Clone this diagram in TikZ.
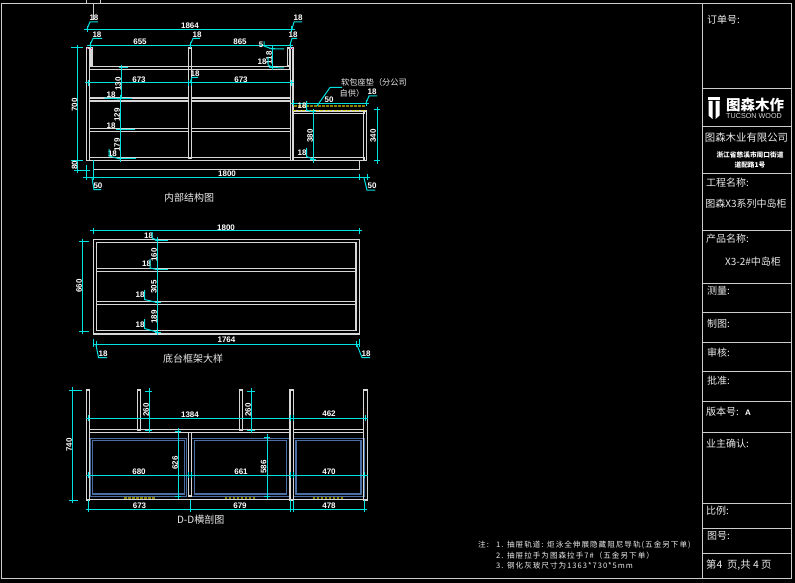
\documentclass[tikz,border=0pt]{standalone}
\usepackage{fontspec}
\setmainfont{Liberation Sans}
\newfontfamily\cjk{Noto Sans CJK SC}
\newfontfamily\cjkn[LetterSpace=13]{Noto Sans CJK SC}
\definecolor{cy}{RGB}{0,225,225}
\definecolor{pnlc}{RGB}{215,215,215}
\definecolor{drw}{RGB}{75,110,165}
\definecolor{olv}{RGB}{140,130,0}
\newcount\labn
\newcommand\txtH[3]{\global\advance\labn by 1 \node[dimtxt] (d\the\labn) at (#1,#2) {#3};}
\newcommand\txtV[3]{\global\advance\labn by 1 \node[dimtxt,rotate=90] (d\the\labn) at (#1,#2) {#3};}
\newcommand\pnl[4]{\draw[panel] (#1,#2) rectangle (#3,#4);}
\newcommand\dimH[3]{\draw[dimline] (#1,#3) -- (#2,#3);
  \draw[dimtick] (#1-3,#3) -- (#1+3,#3) (#1,#3-3) -- (#1,#3+3) (#2-3,#3) -- (#2+3,#3) (#2,#3-3) -- (#2,#3+3);}
\newcommand\dimV[3]{\draw[dimline] (#1,#2) -- (#1,#3);
  \draw[dimtick] (#1-3,#2) -- (#1+3,#2) (#1,#2-3) -- (#1,#2+3) (#1-3,#3) -- (#1+3,#3) (#1,#3-3) -- (#1,#3+3);}
\newcommand\blk[4]{\global\advance\labn by 1 \node[cjktxt,font=\cjk\fontsize{#4}{#4}\selectfont,anchor=west] (t\the\labn) at (#1,#2) {#3};}
\newcommand\ctr[4]{\global\advance\labn by 1 \node[cjktxt,font=\cjk\fontsize{#4}{#4}\selectfont] (t\the\labn) at (#1,#2) {#3};}
\newcommand\noteline[3]{\global\advance\labn by 1 \node[cjktxt,font=\cjkn\fontsize{7.6}{7.6}\selectfont,anchor=west] (n\the\labn) at (#1,#2) {#3};}
\tikzset{
  panel/.style={draw=pnlc,line width=1.15pt},
  dimline/.style={draw=cy,line width=1pt},
  dimtick/.style={draw=cy,line width=1pt},
  lead/.style={draw=cy,line width=1pt},
  dimtxt/.style={text=white,inner sep=0pt,font=\bfseries\fontsize{8}{8}\selectfont},
  cjktxt/.style={text=white!92!black,inner sep=0pt},
  titleline/.style={draw=white!80!black,line width=1pt},
  drawerbox/.style={draw=drw,line width=1.2pt},
  olvline/.style={draw=olv,line width=2.6pt,dash pattern=on 2.5pt off 1.5pt}
}
\begin{document}
\begin{tikzpicture}[x=1pt,y=-1pt]
\useasboundingbox (0,0) rectangle (795,583);
\fill[black] (0,0) rectangle (795,583);
% sheet frame
\draw[titleline] (1.5,3.5) rectangle (791,578);
\draw[titleline] (86,-1) rectangle (100.5,4);
\draw[titleline] (93,4) -- (93,20);
% title block
\draw[titleline] (702.5,3.5) -- (702.5,578);
\foreach \yy in {89,127,173,230,283,312,342,371,401,432,503,528,553}
  \draw[titleline] (702.5,\yy) -- (791,\yy);
\blk{707}{20}{订单号:}{10}
\fill[white] (708,97) -- (720,97) -- (720,100) -- (708,100) -- cycle;
\fill[white] (708.5,101) -- (712.5,101) -- (712.5,119) -- (708.5,115.5) -- cycle;
\fill[white] (715.5,101) -- (719.5,101) -- (719.5,115.5) -- (715.5,119) -- cycle;
\node[text=white,inner sep=0pt,font=\cjk\bfseries\fontsize{14.5}{14.5}\selectfont] (logoA) at (755,105) {图森木作};
\node[text=white!85!black,inner sep=0pt,font=\fontsize{7.2}{7.2}\selectfont] (logoB) at (754,116.5) {TUCSON WOOD};
\ctr{746.5}{138}{图森木业有限公司}{10.4}
\node[text=white,inner sep=0pt,font=\cjk\bfseries\fontsize{6.7}{6.7}\selectfont] (addrA) at (750,154.5) {浙江省慈溪市周口街道};
\node[text=white,inner sep=0pt,font=\cjk\bfseries\fontsize{6.7}{6.7}\selectfont] (addrB) at (750,165) {道配路1号};
\blk{706}{183}{工程名称:}{10}
\ctr{746}{204}{图森X3系列中岛柜}{10}
\blk{706}{239}{产品名称:}{10}
\ctr{753}{262}{X3-2\#中岛柜}{10}
\blk{707}{291}{测量:}{10}
\blk{707}{324}{制图:}{10}
\blk{707}{353}{审核:}{10}
\blk{707}{381}{批准:}{10}
\blk{706}{412}{版本号:}{10}
\txtH{748}{412.5}{A}
\blk{706}{444}{业主确认:}{10}
\blk{706}{511}{比例:}{10}
\blk{707}{536}{图号:}{10}
\blk{706}{565}{第4\ \ 页,共\ 4\ 页}{10.4}
% notes
\noteline{478}{545}{注:}
\noteline{496}{545}{1. 抽屉轨道: 炬泳全伸展隐藏阻尼导轨(五金另下单)}
\noteline{496}{555.5}{2. 抽屉拉手为图森拉手7\#（五金另下单）}
\noteline{496}{566}{3. 钢化灰玻尺寸为1363*730*5mm}

% ---------- section 1
\pnl{86.7}{48}{89.5}{160.7}
\pnl{90.5}{48}{92}{66}
\pnl{188.5}{48}{191.5}{158}
\pnl{287.5}{48}{290}{66}
\pnl{290.5}{48}{293}{160.7}
\pnl{89.5}{66.5}{290}{69.5}
\pnl{89.5}{98}{188.5}{101}
\pnl{191.5}{98}{290.5}{101}
\pnl{89.5}{128.5}{188.5}{131.5}
\pnl{191.5}{128.5}{290.5}{131.5}
\pnl{89.5}{157.5}{290.5}{160.7}
\pnl{293}{111}{364}{113.5}
\pnl{293}{157.5}{364}{160.7}
\pnl{363.5}{111}{366.7}{160.7}
\draw[panel] (93.3,160.7) -- (93.3,169.5) -- (359.3,169.5) -- (359.3,160.7);
\draw[panel] (89.5,160.7) -- (293,160.7);
\draw[olvline] (294,106.2) -- (366,106.2);
\draw[draw=yellow!85!black,line width=0.8pt,dash pattern=on 3pt off 1.5pt] (293,110) -- (366,110);
\foreach \px in {87,91,290,292}\fill[magenta] (\px,48) rectangle +(1.2,1.5);
% dims
\dimH{87}{291.7}{29.3}
\txtH{190}{25.5}{1864}
\draw[lead] (87,29) -- (90,22) -- (98,22);
\txtH{94}{17.5}{18}
\draw[lead] (292,29) -- (294,22) -- (302,22);
\txtH{298}{17.5}{18}
\dimH{90}{290}{45.5}
\draw[dimtick] (190,42.5) -- (190,48.5) (187,45.5) -- (193,45.5);
\txtH{140}{42}{655}
\txtH{240}{42}{865}
\draw[lead] (90,45) -- (93,38.5) -- (102,38.5);
\txtH{97}{34.5}{18}
\draw[lead] (190,45) -- (193,38.5) -- (200,38.5);
\txtH{197}{34.5}{18}
\draw[lead] (290,45) -- (292,38.5) -- (297,38.5);
\txtH{293}{35}{18}
\draw[lead] (264,41.5) -- (264,46) -- (272,49) -- (284,49);
\txtH{261}{44.5}{5}
\dimV{272}{49}{67.5}
\draw[lead] (272,67.5) -- (284,68);
\txtV{269}{58}{118}
\draw[lead] (268,57) -- (268,65) -- (272,67);
\txtH{262}{62}{18}
\dimH{88}{188.5}{83}
\dimH{191.5}{291}{83}
\txtH{139}{79.5}{673}
\txtH{241}{79.5}{673}
\draw[lead] (190,83) -- (192,77.5) -- (198,77.5);
\txtH{195}{73.5}{18}
\draw[dimline] (121.5,67.5) -- (121.5,98.5);
\draw[dimtick] (118.5,67.5) -- (128,67.5) (121.5,65) -- (121.5,70);
\draw[dimline] (120,98.5) -- (120,160);
\draw[dimtick] (116,99) -- (132,99) (120,95) -- (120,103) (116,130) -- (135,130) (120,126) -- (120,134) (117,158.5) -- (136,158.5) (120,155) -- (120,162);
\txtV{118}{84}{130}
\txtH{111}{94.5}{18}
\draw[lead] (104.5,98) -- (114,98.5) -- (120,99);
\txtV{117}{115}{129}
\txtH{111}{125.5}{18}
\txtV{117}{145}{179}
\txtH{112.5}{154}{18}
\draw[lead] (109,149) -- (109,156) -- (120,159);
\dimV{77.3}{47.7}{160.7}
\draw[dimline] (71,47.7) -- (83,47.7) (71,160.7) -- (83,160.7);
\txtV{74.5}{105}{700}
\dimV{77.3}{160.7}{170}
\draw[dimline] (77,170) -- (90,170);
\txtV{74.5}{165}{80}
\draw[dimline] (86,165) -- (86,180) (93.5,160) -- (93.5,180);
\dimH{86}{359.3}{177.3}
\dimH{359.3}{367}{177.3}
\txtH{227}{173.5}{1800}
\draw[lead] (92,178) -- (94,189.5) -- (101,189.5);
\txtH{98}{186}{50}
\draw[lead] (364,178) -- (367,190) -- (375,190);
\txtH{372}{186}{50}
% cushion
\dimH{293.5}{366}{103.5}
\txtH{329}{99.5}{50}
\txtH{302}{106}{18}
\draw[lead] (306.5,101) -- (306.5,110) -- (313,112);
\draw[lead] (317,106) -- (330,87.5) -- (342,87.5);
\ctr{374}{82.5}{软包座垫（分公司}{8.2}
\blk{339.5}{93}{自供）}{8.2}
\txtH{372}{92}{18}
\draw[lead] (366,103) -- (369,96) -- (377,96);
\dimV{313}{112}{159.5}
\txtV{310}{136}{380}
\txtH{302}{153}{18}
\draw[lead] (306.5,148) -- (306.5,156.5) -- (313,159);
\dimV{377.3}{110}{160.7}
\txtV{373}{136}{340}
\ctr{189}{197.5}{内部结构图}{10}

% ---------- section 2
\pnl{93.3}{239.3}{359.3}{334}
\pnl{96.7}{242.7}{356}{330.5}
\pnl{96.7}{268.5}{356}{271.5}
\pnl{96.7}{301.5}{356}{304.5}
\dimH{93.3}{359.3}{230.7}
\txtH{226}{228}{1800}
\dimV{82.7}{241.7}{331}
\draw[dimline] (79,241.7) -- (89,241.7) (79,331) -- (89,331);
\txtV{79}{286}{660}
\draw[dimline] (157.7,240) -- (157.7,333);
\draw[dimtick] (155,240.5) -- (168,240.5) (157.7,237) -- (157.7,244) (154.5,269.5) -- (168,269.5) (157.7,266) -- (157.7,273) (155,302.5) -- (160.5,302.5) (157.7,299) -- (157.7,306) (155,332) -- (160.5,332) (157.7,329) -- (157.7,335);
\txtH{148.5}{235.5}{18}
\draw[lead] (152,232) -- (152,238) -- (157,240);
\txtV{154}{255}{160}
\txtH{146.5}{264}{18}
\draw[lead] (150,259) -- (150,268) -- (157,269.5);
\txtV{154}{287}{305}
\txtH{140}{295}{18}
\draw[lead] (144.5,290) -- (144.5,299.5) -- (157,302.5);
\txtV{154}{317}{189}
\txtH{140}{324.5}{18}
\draw[lead] (144.5,319) -- (144.5,328.5) -- (157,332);
\dimH{96.7}{356}{344}
\draw[dimline] (93.5,339) -- (93.5,347) (359.5,339) -- (359.5,347);
\txtH{226.5}{340}{1764}
\draw[lead] (96,345) -- (98.5,357.5) -- (107,357.5);
\txtH{103}{353.5}{18}
\draw[lead] (357,345) -- (362,357.5) -- (370,357.5);
\txtH{366}{353.5}{18}
\ctr{193}{359}{底台框架大样}{10}

% ---------- section 3
\draw[drawerbox] (90,438.3) rectangle (186.7,496.7);
\draw[drawerbox] (92.7,440.7) rectangle (184.3,494);
\draw[drawerbox] (191.7,438.3) rectangle (289.3,496.7);
\draw[drawerbox] (194.7,440.7) rectangle (286.7,494);
\draw[drawerbox] (293.3,438.3) rectangle (364,496.7);
\draw[drawerbox] (296,440.7) rectangle (361,494);
\pnl{86.5}{390}{89.5}{500}
\pnl{137.5}{390}{140.7}{430}
\pnl{239.5}{390}{242.7}{430}
\pnl{290}{390}{293.3}{500}
\pnl{363.8}{390}{367.3}{500}
\pnl{89.5}{429.5}{290}{432.7}
\pnl{293.3}{429.5}{363.8}{432.7}
\pnl{188.5}{432.7}{191.7}{496}
\draw[panel] (86.5,499.5) -- (367.3,499.5);
\draw[olvline] (124,498) -- (155,498);
\draw[olvline] (224.5,498) -- (255.5,498);
\draw[olvline] (312.7,498) -- (344.3,498);
\dimH{88.5}{290.5}{418}
\dimH{293}{365}{418}
\txtH{190}{414.5}{1384}
\txtH{329}{414}{462}
\dimV{149.3}{391}{430}
\draw[dimline] (145,391) -- (150,391) (145,430) -- (150,430);
\txtV{146}{410}{260}
\dimV{251.7}{391}{430}
\draw[dimline] (247,391) -- (252,391) (247,430) -- (252,430);
\txtV{248}{410}{260}
\dimV{178}{431}{496}
\txtV{175}{463}{626}
\dimV{267.3}{437}{496}
\draw[dimline] (264,437) -- (268,437) (264,496) -- (268,496);
\txtV{263.5}{467}{586}
\dimH{88.5}{188.5}{475.3}
\dimH{191.5}{290}{475.3}
\dimH{293}{364.5}{475.3}
\txtH{139}{471.5}{680}
\txtH{241}{471.5}{661}
\txtH{329}{471.5}{470}
\dimH{88.7}{190}{509.3}
\dimH{190}{290}{509.3}
\dimH{293}{364}{509.3}
\draw[dimline] (88.7,500) -- (88.7,512) (190,500) -- (190,512) (290,500) -- (290,512) (293,500) -- (293,512) (364,500) -- (364,512);
\txtH{139.5}{506}{673}
\txtH{240}{506}{679}
\txtH{329}{506}{478}
\dimV{72.3}{390}{500}
\draw[dimline] (72,390) -- (82,390) (72,500) -- (78,500);
\txtV{69}{445}{740}
\ctr{200.7}{519.5}{D-D横剖图}{10}
\end{tikzpicture}
\end{document}
